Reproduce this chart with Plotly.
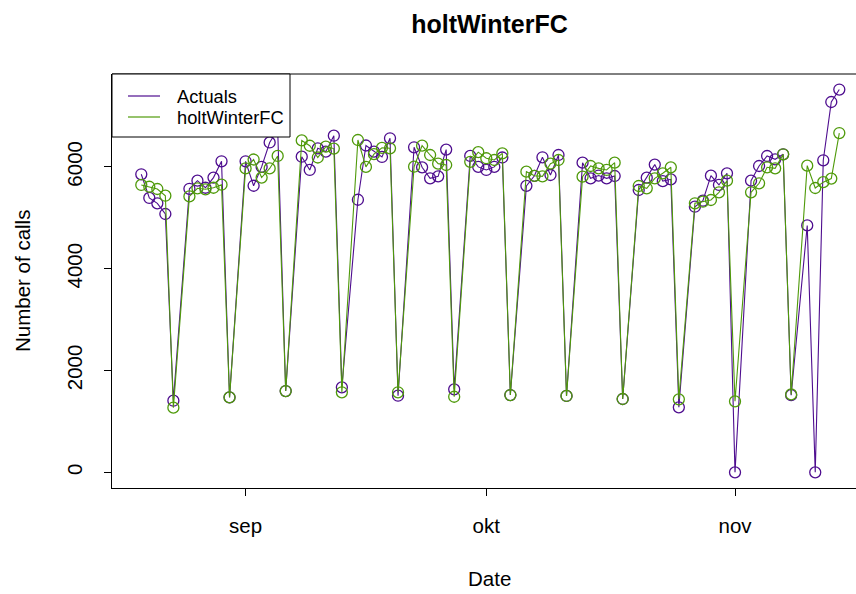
import plotly.graph_objects as go

dates = [
    "2014-08-19", "2014-08-20", "2014-08-21", "2014-08-22", "2014-08-23",
    "2014-08-25", "2014-08-26", "2014-08-27", "2014-08-28", "2014-08-29", "2014-08-30",
    "2014-09-01", "2014-09-02", "2014-09-03", "2014-09-04", "2014-09-05", "2014-09-06",
    "2014-09-08", "2014-09-09", "2014-09-10", "2014-09-11", "2014-09-12", "2014-09-13",
    "2014-09-15", "2014-09-16", "2014-09-17", "2014-09-18", "2014-09-19", "2014-09-20",
    "2014-09-22", "2014-09-23", "2014-09-24", "2014-09-25", "2014-09-26", "2014-09-27",
    "2014-09-29", "2014-09-30", "2014-10-01", "2014-10-02", "2014-10-03", "2014-10-04",
    "2014-10-06", "2014-10-07", "2014-10-08", "2014-10-09", "2014-10-10", "2014-10-11",
    "2014-10-13", "2014-10-14", "2014-10-15", "2014-10-16", "2014-10-17", "2014-10-18",
    "2014-10-20", "2014-10-21", "2014-10-22", "2014-10-23", "2014-10-24", "2014-10-25",
    "2014-10-27", "2014-10-28", "2014-10-29", "2014-10-30", "2014-10-31", "2014-11-01",
    "2014-11-03", "2014-11-04", "2014-11-05", "2014-11-06", "2014-11-07", "2014-11-08",
    "2014-11-10", "2014-11-11", "2014-11-12", "2014-11-13", "2014-11-14",
]

actuals = [
    5855, 5390, 5285, 5075, 1407,
    5570, 5730, 5590, 5790, 6110, 1473,
    6110, 5630, 6000, 6480, 6735, 1597,
    6200, 5940, 6365, 6300, 6613, 1670,
    5355, 6420, 6300, 6195, 6562, 1505,
    6385, 5992, 5776, 5815, 6340, 1630,
    6215, 6000, 5940, 6000, 6185, 1518,
    5628, 5825, 6189, 5841, 6234, 1500,
    6083, 5776, 5830, 5776, 5821, 1440,
    5546, 5788, 6045, 5720, 5756, 1277,
    5218, 5336, 5828, 5645, 5874, 0,
    5729, 6018, 6214, 6149, 6248, 1515,
    4850, 0, 6130, 7275, 7520,
]

forecast = [
    5645, 5610, 5566, 5434, 1270,
    5420, 5580, 5560, 5590, 5650, 1473,
    5970, 6145, 5790, 5970, 6215, 1597,
    6520, 6415, 6185, 6397, 6360, 1572,
    6528, 6000, 6250, 6375, 6365, 1572,
    6004, 6417, 6234, 6064, 6037, 1485,
    6100, 6290, 6170, 6136, 6267, 1518,
    5906, 5825, 5815, 6064, 6136, 1500,
    5808, 6018, 5971, 5940, 6083, 1440,
    5625, 5580, 5776, 5874, 5992, 1434,
    5285, 5316, 5350, 5501, 5729, 1395,
    5501, 5678, 5992, 5971, 6248, 1530,
    6025, 5585, 5700, 5770, 6665,
]

series_names = ["Actuals", "holtWinterFC"]
tick_dates = ["2014-09-01", "2014-10-01", "2014-11-01"]
tick_labels = ["sep", "okt", "nov"]
y_ticks = [0, 2000, 4000, 6000]

PURPLE = "#4E0D8F"
GREEN = "#4F9A0A"
FONT = "Liberation Sans, Arial, sans-serif"

# plot-area geometry in pixels (for converting legend/label positions to paper coords)
L, R, T, B = 112, 856, 74, 488
def px(xp):
    return (xp - L) / (R - L)
def py(yp):
    return (B - yp) / (B - T)

fig = go.Figure()
for name, vals, col in zip(series_names, [actuals, forecast], [PURPLE, GREEN]):
    fig.add_trace(go.Scatter(
        x=dates, y=vals, mode="lines+markers", name=name, showlegend=False,
        line=dict(color=col, width=1.1),
        marker=dict(symbol="circle-open", size=11, color=col, line=dict(width=1.3, color=col)),
        cliponaxis=False,
    ))

shapes = [
    dict(type="line", xref="paper", yref="paper", x0=0, x1=1.05, y0=1, y1=1,
         line=dict(color="black", width=1)),
    dict(type="rect", xref="paper", yref="paper", x0=px(112), x1=px(290), y0=py(137), y1=py(74),
         line=dict(color="black", width=1), fillcolor="white", layer="above"),
]
annotations = [
    dict(text="Date", xref="paper", yref="paper", x=px(489.5), y=py(578),
         xanchor="center", yanchor="middle", showarrow=False, font=dict(size=20.5)),
    dict(text="Number of calls", xref="paper", yref="paper", x=px(22), y=0.5,
         xanchor="center", yanchor="middle", textangle=-90, showarrow=False, font=dict(size=20.5)),
]
for i, (name, col) in enumerate(zip(series_names, [PURPLE, GREEN])):
    yy = 96 + 21 * i
    shapes.append(dict(type="line", xref="paper", yref="paper", x0=px(128), x1=px(160),
                       y0=py(yy), y1=py(yy), line=dict(color=col, width=1.2), layer="above"))
    annotations.append(dict(text=name, xref="paper", yref="paper", x=px(175), y=py(yy),
                            xanchor="left", yanchor="middle", showarrow=False,
                            font=dict(size=18.3)))

fig.update_layout(
    width=856, height=594,
    margin=dict(l=L, r=856 - R, t=T, b=594 - B),
    paper_bgcolor="white", plot_bgcolor="white",
    font=dict(family=FONT, size=20.5, color="black"),
    title=dict(text="<b>holtWinterFC</b>", x=489.5 / 856, xanchor="center",
               y=1 - 24 / 594, yanchor="middle", font=dict(size=25, family=FONT)),
    showlegend=False,
    xaxis=dict(
        type="date", range=["2014-08-15 08:24", "2014-11-16 01:55"],
        tickmode="array", tickvals=tick_dates, ticktext=tick_labels,
        ticks="outside", ticklen=7, tickcolor="black", tickwidth=1,
        showline=True, linecolor="black", linewidth=1, mirror=False,
        showgrid=False, zeroline=False, ticklabelstandoff=12,
    ),
    yaxis=dict(
        range=[-308, 7825], tickmode="array", tickvals=y_ticks,
        ticktext=[str(v) for v in y_ticks], tickangle=-90,
        ticks="outside", ticklen=7, tickcolor="black", tickwidth=1,
        showline=True, linecolor="black", linewidth=1, mirror=False,
        showgrid=False, zeroline=False, ticklabelstandoff=14,
    ),
    shapes=shapes,
    annotations=annotations,
)

fig.write_html("out.html")
